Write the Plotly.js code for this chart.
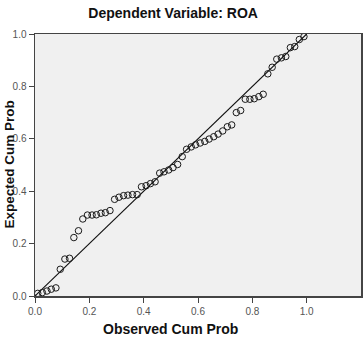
<!DOCTYPE html>
<html>
<head>
<meta charset="utf-8">
<script src="https://cdn.plot.ly/plotly-3.0.1.min.js"></script>
<style>
  html, body { margin: 0; padding: 0; background: #ffffff; }
  #chart { width: 363px; height: 338px; }
</style>
</head>
<body>
<div id="chart"></div>
<script>
// Normal P-P plot of the regression residuals (dependent variable ROA)
const observedCumProb = [
  0.010, 0.027, 0.044, 0.060, 0.077, 0.093, 0.110, 0.127, 0.143, 0.160,
  0.176, 0.193, 0.210, 0.226, 0.243, 0.259, 0.276, 0.293, 0.309, 0.326,
  0.342, 0.359, 0.376, 0.392, 0.409, 0.425, 0.442, 0.459, 0.475, 0.492,
  0.508, 0.525, 0.542, 0.558, 0.575, 0.591, 0.608, 0.625, 0.641, 0.658,
  0.674, 0.691, 0.708, 0.724, 0.741, 0.757, 0.774, 0.791, 0.807, 0.824,
  0.840, 0.857, 0.873, 0.890, 0.907, 0.923, 0.940, 0.956, 0.973, 0.990
];
const expectedCumProb = [
  0.010, 0.013, 0.019, 0.026, 0.031, 0.102, 0.141, 0.144, 0.223, 0.249,
  0.294, 0.309, 0.309, 0.310, 0.316, 0.318, 0.326, 0.369, 0.377, 0.383,
  0.385, 0.387, 0.387, 0.417, 0.421, 0.429, 0.436, 0.469, 0.474, 0.481,
  0.490, 0.502, 0.532, 0.560, 0.569, 0.577, 0.584, 0.590, 0.599, 0.608,
  0.618, 0.630, 0.646, 0.653, 0.700, 0.708, 0.751, 0.751, 0.753, 0.761,
  0.770, 0.848, 0.873, 0.904, 0.909, 0.914, 0.948, 0.952, 0.979, 0.990
];
// Reference diagonal (observed = expected)
const refLineX = [0, 1];
const refLineY = [0, 1];
const tickValues = [0, 0.2, 0.4, 0.6, 0.8, 1.0];
const tickLabels = ['0.0', '0.2', '0.4', '0.6', '0.8', '1.0'];

const FONT = 'Arial, "Liberation Sans", sans-serif';

const traces = [
  {
    x: refLineX, y: refLineY,
    type: 'scatter', mode: 'lines',
    line: { color: '#111111', width: 1.1 },
    hoverinfo: 'skip'
  },
  {
    x: observedCumProb, y: expectedCumProb,
    type: 'scatter', mode: 'markers',
    marker: { symbol: 'circle-open', size: 6.5, color: '#1a1a1a', line: { width: 1, color: '#1a1a1a' } },
    cliponaxis: false
  }
];

const axisCommon = {
  tickvals: tickValues,
  ticktext: tickLabels,
  ticks: 'outside',
  ticklen: 5,
  tickwidth: 1,
  tickcolor: '#444444',
  tickfont: { family: FONT, size: 10, color: '#555555' },
  showgrid: false,
  zeroline: false,
  showline: true,
  mirror: true,
  linecolor: '#444444',
  linewidth: 1.5,
  fixedrange: true
};

const layout = {
  width: 363,
  height: 338,
  margin: { l: 35, r: 2, t: 34, b: 42, pad: 0 },
  paper_bgcolor: '#ffffff',
  plot_bgcolor: '#f0f0f0',
  showlegend: false,
  title: {
    text: '<b>Dependent Variable: ROA</b>',
    font: { family: FONT, size: 14, color: '#111111' },
    xref: 'container', x: 0.477, xanchor: 'center',
    yref: 'container', y: 0.962, yanchor: 'middle'
  },
  xaxis: Object.assign({}, axisCommon, { range: [0, 1.2] }),
  yaxis: Object.assign({}, axisCommon, { range: [0, 1.0] }),
  annotations: [
    {
      text: '<b>Observed Cum Prob</b>',
      xref: 'x', x: 0.5, xanchor: 'center',
      yref: 'paper', y: -0.126, yanchor: 'middle',
      showarrow: false,
      font: { family: FONT, size: 14, color: '#111111' }
    },
    {
      text: '<b>Expected Cum Prob</b>',
      xref: 'paper', x: -0.081, xanchor: 'center',
      yref: 'y', y: 0.5, yanchor: 'middle',
      textangle: -90,
      showarrow: false,
      font: { family: FONT, size: 13.5, color: '#111111' }
    }
  ]
};

Plotly.newPlot('chart', traces, layout, { displayModeBar: false, staticPlot: true });
</script>
</body>
</html>
